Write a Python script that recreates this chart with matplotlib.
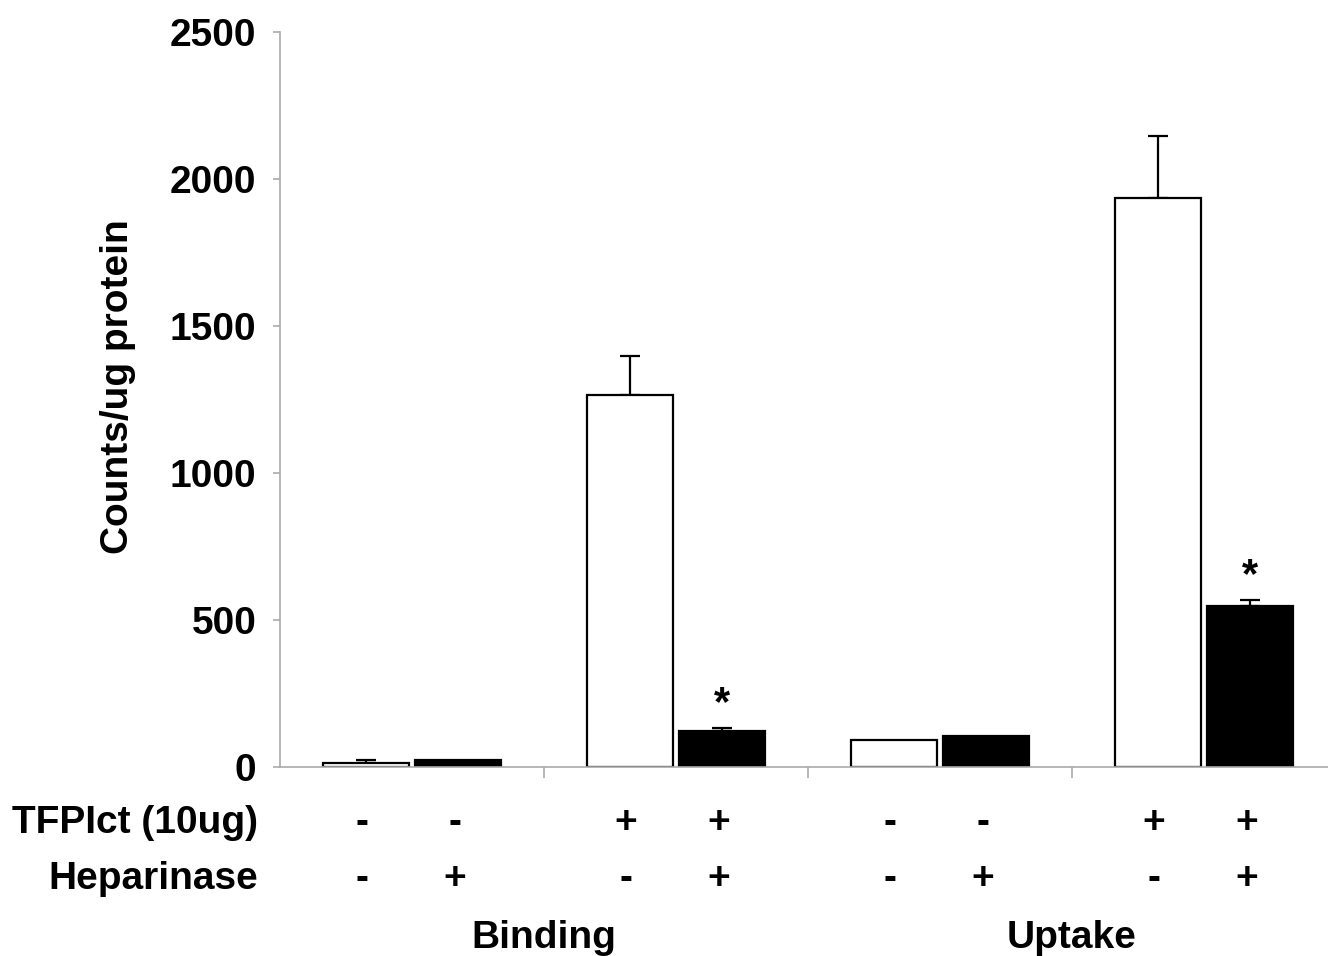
import numpy as np
import matplotlib
matplotlib.use("Agg")
import matplotlib.pyplot as plt
import matplotlib.transforms as mtransforms

plt.rcParams['font.family'] = ['Liberation Sans', 'DejaVu Sans']
plt.rcParams['font.weight'] = 'bold'

groups = ['Binding', 'Uptake']
ctrl_vals = [15, 1265, 93, 1935]      # white bars
hep_vals = [25, 123, 104, 548]        # black bars
ctrl_err = [10, 133, 0, 210]
hep_err = [0, 10, 0, 20]
tfpi_signs = ['-', '+', '-', '+']
hep_signs_ctrl = ['-', '-', '-', '-']
hep_signs_hep = ['+', '+', '+', '+']
star_on = [False, True, False, True]

grey = '#aaaaaa'
fs = 28
fig = plt.figure(figsize=(13.28, 9.56), dpi=100)
ax = fig.add_axes([280 / 1328, 1 - 767 / 956, 1 - 280 / 1328, 735 / 956])

x = np.arange(4) + 0.5
off = 0.176
w = 0.326
ax.bar(x - off, ctrl_vals, w, color='white', edgecolor='black', linewidth=1.6, zorder=2)
ax.bar(x + off, hep_vals, w, color='black', edgecolor='black', linewidth=1.6, zorder=2)

for xi, v, e in zip(x - off, ctrl_vals, ctrl_err):
    if e > 0:
        ax.errorbar(xi, v, yerr=[[0], [e]], fmt='none', ecolor='black',
                    elinewidth=1.6, capsize=7, capthick=1.6, zorder=1)
for xi, v, e, s in zip(x + off, hep_vals, hep_err, star_on):
    if e > 0:
        ax.errorbar(xi, v, yerr=[[0], [e]], fmt='none', ecolor='black',
                    elinewidth=1.6, capsize=7, capthick=1.6, zorder=1)
    if s:
        ax.text(xi, v + e + 80, '*', ha='center', va='center', fontsize=fs + 2, fontweight='bold')

ax.set_xlim(0, (1328 - 280) / 264)
ax.set_ylim(0, 2500)
ax.set_yticks([0, 500, 1000, 1500, 2000, 2500])
ax.set_xticks([1, 2, 3])
ax.set_xticklabels([])
ax.tick_params(axis='y', direction='out', length=5, color=grey, width=1.2, labelsize=fs, pad=12)
ax.tick_params(axis='x', direction='out', length=8, color=grey, width=1.2)
for lab in ax.get_yticklabels():
    lab.set_fontweight('bold')
ax.spines['top'].set_visible(False)
ax.spines['right'].set_visible(False)
ax.spines['left'].set_color(grey)
ax.spines['bottom'].set_color(grey)
ax.spines['left'].set_linewidth(1.2)
ax.spines['bottom'].set_linewidth(1.2)

fig.text(118 / 1328, 1 - 387 / 956, 'Counts/ug protein', rotation=90, ha='center', va='center',
         fontsize=fs, fontweight='bold')

# condition table under the axis
trans = mtransforms.blended_transform_factory(ax.transData, ax.transAxes)
row1, row2, row3 = -0.076, -0.152, -0.233
sx = x - 0.015
ax.text(-0.083, row1, 'TFPIct (10ug)', transform=trans, ha='right', va='center', fontsize=fs, fontweight='bold')
ax.text(-0.083, row2, 'Heparinase', transform=trans, ha='right', va='center', fontsize=fs, fontweight='bold')
for i in range(4):
    ax.text(sx[i] - off, row1, tfpi_signs[i], transform=trans, ha='center', va='center', fontsize=fs, fontweight='bold')
    ax.text(sx[i] + off, row1, tfpi_signs[i], transform=trans, ha='center', va='center', fontsize=fs, fontweight='bold')
    ax.text(sx[i] - off, row2, hep_signs_ctrl[i], transform=trans, ha='center', va='center', fontsize=fs, fontweight='bold')
    ax.text(sx[i] + off, row2, hep_signs_hep[i], transform=trans, ha='center', va='center', fontsize=fs, fontweight='bold')
for gi, g in enumerate(groups):
    ax.text(1 + 2 * gi, row3, g, transform=trans, ha='center', va='center', fontsize=fs, fontweight='bold')

fig.savefig('out.png', dpi=100)
